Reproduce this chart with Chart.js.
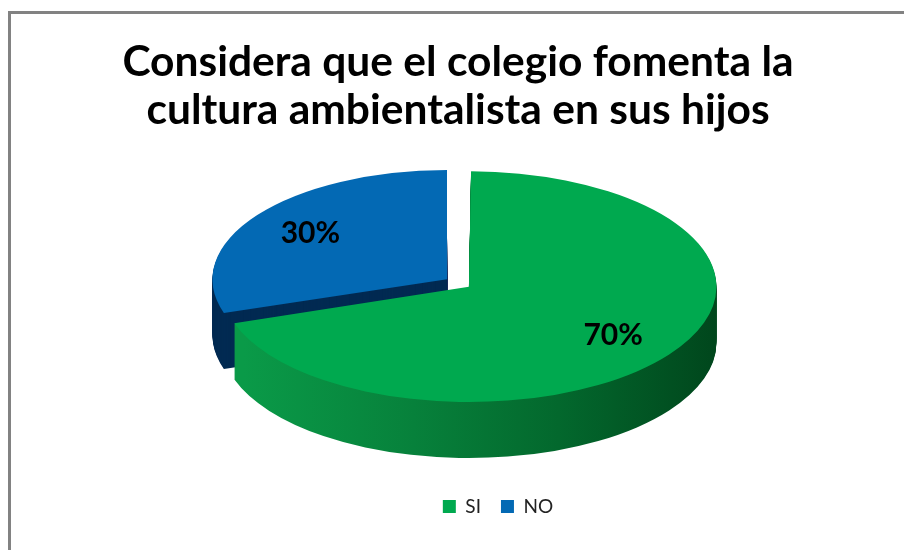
<!DOCTYPE html>
<html>
<head>
<meta charset="utf-8">
<script src="https://cdn.jsdelivr.net/npm/chart.js@4.4.0/dist/chart.umd.min.js"></script>
<style>
	html, body { margin: 0; background: #fff; overflow: hidden; }
	#wrap { position: absolute; left: 0; top: 0; width: 904px; height: 550px; }
</style>
</head>
<body>
<div id="wrap"><canvas id="pie-chart"></canvas></div>
<script>
const categories = ['SI', 'NO'];
const values = [70, 30];
const titleLines = ['Considera que el colegio fomenta la', 'cultura ambientalista en sus hijos'];

const topColors = ['#00a94f', '#0369b4'];

// fake 3d: squash the pie vertically and stack darker copies under it
const tilt = 0.466;
const depth = 56;
const pieCentreY = 283;
const labelReach = 0.72;

function squash(ctx, arc, shift) {
	ctx.translate(0, pieCentreY + shift);
	ctx.scale(1, tilt);
	ctx.translate(0, -arc.y);
}

function sideFills(ctx) {
	const green = ctx.createLinearGradient(233, 0, 717, 0);
	green.addColorStop(0, '#0a9a48');
	green.addColorStop(0.35, '#07813b');
	green.addColorStop(0.65, '#03682d');
	green.addColorStop(1, '#00441b');
	return [green, '#022a52'];
}

// only the top and left edges of the chart frame are inside the picture
const frame = {
	id: 'frame',
	beforeDraw(chart) {
		const ctx = chart.ctx;
		ctx.save();
		ctx.fillStyle = '#828282';
		ctx.fillRect(8, 11, 3, chart.height - 11);
		ctx.fillRect(8, 11, chart.width - 8, 3);
		ctx.restore();
	},
};

const pie3d = {
	id: 'pie3d',
	beforeDatasetsDraw(chart) {
		const ctx = chart.ctx;
		const arcs = chart.getDatasetMeta(0).data;
		const sides = sideFills(ctx);

		// back slice first, the front one covers it
		for (let i = arcs.length - 1; i >= 0; i--) {
			const arc = arcs[i];
			const side = Object.create(arc);
			side.options = { ...arc.options, backgroundColor: sides[i], borderWidth: 0 };
			for (let k = depth; k > 0; k--) {
				ctx.save();
				squash(ctx, arc, k);
				side.draw(ctx);
				ctx.restore();
			}
		}

		ctx.save();
		squash(ctx, arcs[0], 0);
	},
	afterDatasetsDraw(chart) {
		const ctx = chart.ctx;
		ctx.restore();

		const arcs = chart.getDatasetMeta(0).data;
		ctx.save();
		ctx.font = "bold 30px Lato";
		ctx.fillStyle = '#000';
		ctx.textAlign = 'center';
		ctx.textBaseline = 'middle';
		arcs.forEach((arc, i) => {
			const mid = (arc.startAngle + arc.endAngle) / 2;
			const off = arc.options.offset / 4;
			const fix = 1 - Math.sin(Math.min(Math.PI, arc.circumference));
			const radius = arc.outerRadius + off * fix;
			const dist = off + radius * labelReach;
			const x = arc.x + Math.cos(mid) * dist;
			const y = pieCentreY + Math.sin(mid) * dist * tilt;
			ctx.fillText(values[i] + '%', x, y);
		});
		ctx.restore();
	},
};

// Excel puts the legend a bit right of the title centre
const legendShift = {
	id: 'legendShift',
	afterLayout(chart) {
		chart.legend.left += 40;
		chart.legend.right += 40;
	},
};

new Chart(document.getElementById('pie-chart'), {
	type: 'pie',
	data: {
		labels: categories,
		datasets: [{
			data: values,
			backgroundColor: topColors,
			borderWidth: 0,
			offset: 54,
			radius: 234,
		}],
	},
	options: {
		animation: false,
		responsive: true,
		maintainAspectRatio: false,
		layout: { padding: { left: 20, right: 8, top: 12, bottom: 24 } },
		plugins: {
			title: {
				display: true,
				text: titleLines,
				color: '#000',
				font: { family: 'Lato', size: 42.5, weight: 'bold', lineHeight: 1.14 },
				padding: { top: 26, bottom: 10 },
			},
			legend: {
				position: 'bottom',
				labels: {
					boxWidth: 13,
					boxHeight: 13,
					padding: 20,
					color: '#222',
					font: { family: 'Lato', size: 19 },
				},
			},
			tooltip: { enabled: false },
		},
	},
	plugins: [frame, pie3d, legendShift],
});
</script>
</body>
</html>
